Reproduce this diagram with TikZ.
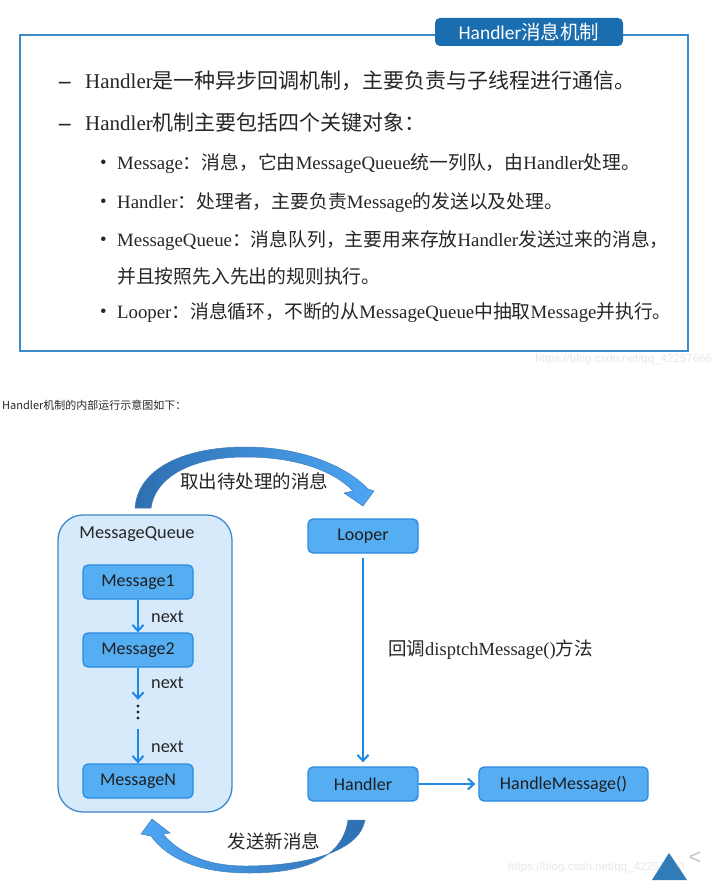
\documentclass[tikz,border=0pt]{standalone}
\usepackage{fontspec}
\setmainfont{Liberation Serif}
\newfontfamily\zhfont{Noto Sans CJK SC}
\newfontfamily\calfont{Carlito}
\newfontfamily\wmfont{Liberation Sans}
\newcommand\zh[1]{{\zhfont #1}}
\usetikzlibrary{arrows.meta}
\definecolor{framecol}{HTML}{3B8CC8}
\definecolor{tabblue}{HTML}{1A6DAE}
\definecolor{txt}{HTML}{262626}
\definecolor{mfill}{HTML}{55ADF2}
\definecolor{mbord}{HTML}{2B8BE0}
\definecolor{qfill}{HTML}{D6EAFC}
\definecolor{qbord}{HTML}{3D86C8}
\definecolor{conncol}{HTML}{1E88E5}
\definecolor{arcdark}{HTML}{2E6FB0}
\definecolor{arclight}{HTML}{4DA6F5}
\definecolor{wm}{HTML}{E8E8E8}
\tikzset{
  toptext/.style={anchor=west, inner sep=0pt, text=txt, font=\fontsize{21}{24}\selectfont},
  dashtext/.style={anchor=west, inner sep=0pt, text=txt, font=\bfseries\fontsize{23}{24}\selectfont},
  bullettext/.style={anchor=west, inner sep=0pt, text=txt, font=\fontsize{18.8}{22}\selectfont},
  msg/.style={draw=mbord, fill=mfill, rounded corners=5pt, line width=1.3pt, minimum width=110pt, minimum height=34pt, inner sep=0pt, text=black!88, font=\calfont\fontsize{18}{20}\selectfont},
  conn/.style={draw=conncol, line width=2pt, -{Straight Barb[length=6pt,width=11pt]}},
  lbl/.style={inner sep=0pt, text=txt, font=\calfont\fontsize{18.3}{20}\selectfont},
  zhlbl/.style={inner sep=0pt, text=txt, font=\zhfont\fontsize{18.5}{20}\selectfont},
  arc/.style={draw=arcdark!90, line width=0.5pt},
  wmtext/.style={inner sep=0pt, text=wm, font=\wmfont\fontsize{11.5}{12}\selectfont}
}
\begin{document}
\begin{tikzpicture}[x=1pt,y=-1pt]
\useasboundingbox (0,0) rectangle (718,893);
\fill[white] (0,0) rectangle (718,893);
% ---------- top frame ----------
\draw[framecol, line width=1.6pt] (20,35) rectangle (688,351);
\node[fill=tabblue, text=white, rounded corners=5pt, minimum width=188pt, minimum height=28pt, inner sep=0pt, font=\calfont\fontsize{19.5}{22}\selectfont] (title) at (529,32) {Handler\zh{消息机制}};
\node[dashtext] (d1) at (59,85) {–};
\node[toptext] (t1) at (85,81) {Handler\zh{是一种异步回调机制，主要负责与子线程进行通信。}};
\node[dashtext] (d2) at (59,127) {–};
\node[toptext] (t2) at (85,123) {Handler\zh{机制主要包括四个关键对象：}};
\node[bullettext] (b1) at (100,164) {•};
\node[bullettext] (s1) at (117,164) {Message\zh{：消息，它由}MessageQueue\zh{统一列队，由}Handler\zh{处理。}};
\node[bullettext] (b2) at (100,203) {•};
\node[bullettext] (s2) at (117,203) {Handler\zh{：处理者，主要负责}Message\zh{的发送以及处理。}};
\node[bullettext] (b3) at (100,241) {•};
\node[bullettext] (s3) at (117,241) {MessageQueue\zh{：消息队列，主要用来存放}Handler\zh{发送过来的消息，}};
\node[bullettext] (s3b) at (117,276) {\zh{并且按照先入先出的规则执行。}};
\node[bullettext] (b4) at (100,313) {•};
\node[bullettext] (s4) at (117,313) {Looper\zh{：消息循环，不断的从}MessageQueue\zh{中抽取}Message\zh{并执行。}};
\node[wmtext, anchor=east] (wm1) at (712,360) {https://blog.csdn.net/qq\_42257666};
% ---------- caption ----------
\node[anchor=west, inner sep=0pt, text=txt, font=\zhfont\fontsize{11}{12}\selectfont] (cap) at (2,405) {Handler机制的内部运行示意图如下：};
% ---------- diagram ----------
\node[draw=qbord, fill=qfill, rounded corners=25pt, line width=1.3pt, minimum width=174pt, minimum height=297pt, inner sep=0pt] (mq) at (145,663.5) {};
\node[lbl] (mqlbl) at (137,534) {MessageQueue};
\node[msg] (m1) at (138,582) {Message1};
\node[msg] (m2) at (138,650) {Message2};
\node[msg] (mN) at (138,781) {MessageN};
\node[minimum width=6pt, minimum height=29pt, inner sep=0pt] (dots) at (138,714.5) {};
\foreach \yy in {706,712,718} \fill[black!85] (138,\yy) circle (1.6pt);
\draw[conn] (m1.south) -- (m2.north);
\draw[conn] (m2.south) -- (dots.north);
\draw[conn] (dots.south) -- (mN.north);
\node[lbl, anchor=west] (n1) at (151,617) {next};
\node[lbl, anchor=west] (n2) at (151,683) {next};
\node[lbl, anchor=west] (n3) at (151,747) {next};
\node[msg] (looper) at (363,536) {Looper};
\node[msg] (handler) at (363,784) {Handler};
\node[msg, minimum width=169pt] (hm) at (563.5,784) {HandleMessage()};
\draw[conn, shorten <=4pt, shorten >=4pt] (looper.south) -- (handler.north);
\draw[conn, shorten >=3pt] (handler.east) -- (hm.west);
\node[anchor=west, inner sep=0pt, text=txt, font=\fontsize{18.5}{20}\selectfont] (cb) at (388,650) {\zh{回调}disptchMessage()\zh{方法}};
% top curved arrow
\shadedraw[arc, left color=arcdark, right color=arclight]
  (135,508) .. controls (138,468) and (185,447) .. (245,447)
  .. controls (300,447) and (345,465) .. (368,489)
  -- (374,491) -- (363,506) -- (344,493) -- (353,491)
  .. controls (333,470) and (295,457) .. (245,457)
  .. controls (190,457) and (155,478) .. (151,508) -- cycle;
\node[zhlbl] (qlbl) at (254,481) {取出待处理的消息};
% bottom curved arrow
\shadedraw[arc, left color=arclight, right color=arcdark]
  (365,820) .. controls (360,850) and (310,866) .. (245,866)
  .. controls (205,866) and (178,852) .. (163,834)
  -- (170,833) -- (152,819) -- (141,834) -- (151,836)
  .. controls (170,862) and (205,873) .. (250,873)
  .. controls (310,873) and (343,855) .. (348,820) -- cycle;
\node[zhlbl] (slbl) at (274,841) {发送新消息};
% bottom-right decoration
\node[wmtext, anchor=west] (wm2) at (508,868) {https://blog.csdn.net/qq\_42257666};
\fill[tabblue!90] (652,880) -- (669,853) -- (687,880) -- cycle;
\node[inner sep=0pt, text=black!22, font=\wmfont\fontsize{22}{22}\selectfont] (lt) at (695,858) {<};
\end{tikzpicture}
\end{document}
